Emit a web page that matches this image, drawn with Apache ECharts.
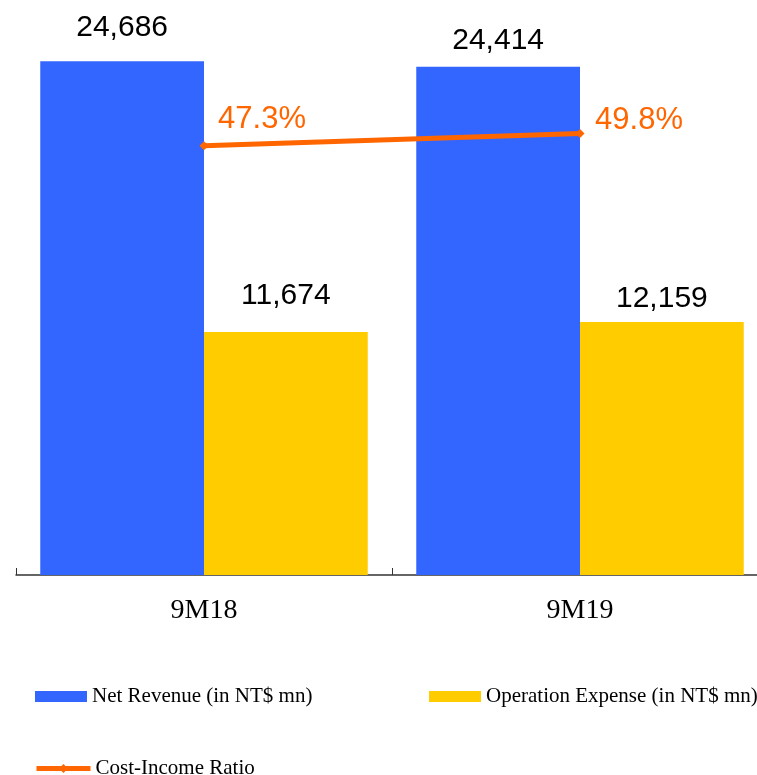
<!DOCTYPE html>
<html>
<head>
<meta charset="utf-8">
<script src="https://cdn.jsdelivr.net/npm/echarts@6/dist/echarts.min.js"></script>
<style>
  html, body { margin: 0; padding: 0; background: #fff; }
  #chart { width: 757px; height: 775px; }
</style>
</head>
<body>
<div id="chart"></div>
<script>
// chart data
const categories = ['9M18', '9M19'];
const netRevenue = [24686, 24414];
const operationExpense = [11674, 12159];
const costIncomeRatio = [47.3, 49.8];

// label placement (style only, the labels sit unevenly in the original)
const revLabelDist = [18, 11];
const expLabelDist = [21, 8];
const ratioLabelOffset = [[58, -26], [59, -13]];

const chart = echarts.init(document.getElementById('chart'));

const barLabel = {
  show: true,
  position: 'top',
  color: '#000',
  fontFamily: 'Liberation Sans',
  fontSize: 30,
  formatter: (p) => p.value.toLocaleString('en-US'),
};

const legendText = {
  fontFamily: 'Liberation Serif',
  fontSize: 21,
  color: '#000',
};

const option = {
  animation: false,
  grid: { left: 16, top: 13, right: -11, bottom: 200, outerBoundsMode: 'none' },
  legend: [
    {
      data: [{ name: 'Net Revenue (in NT$ mn)', icon: 'rect' }],
      left: 35, top: 686, padding: 0,
      itemWidth: 52, itemHeight: 11,
      textStyle: legendText,
    },
    {
      data: [{ name: 'Operation Expense (in NT$ mn)', icon: 'rect' }],
      left: 429, top: 686, padding: 0,
      itemWidth: 52, itemHeight: 11,
      textStyle: legendText,
    },
    {
      data: ['Cost-Income Ratio'],
      left: 34, top: 758, padding: 0,
      itemWidth: 54, itemHeight: 11,
      lineStyle: { width: 5 },
      textStyle: legendText,
    },
  ],
  xAxis: {
    type: 'category',
    data: categories,
    axisLine: { lineStyle: { color: '#333', width: 1.5 } },
    axisTick: { show: true, inside: true, length: 7, lineStyle: { color: '#333' } },
    axisLabel: {
      color: '#000',
      fontFamily: 'Liberation Serif',
      fontSize: 28,
      margin: 22,
    },
  },
  yAxis: [
    { type: 'value', min: 0, max: 27000, show: false, splitLine: { show: false } },
    { type: 'value', min: -40.7, max: 74.5, show: false, splitLine: { show: false } },
  ],
  series: [
    {
      name: 'Net Revenue (in NT$ mn)',
      type: 'bar',
      barGap: '0%',
      barCategoryGap: '12.9%',
      itemStyle: { color: '#3366FF' },
      label: barLabel,
      data: netRevenue.map((v, i) => ({ value: v, label: { distance: revLabelDist[i] } })),
    },
    {
      name: 'Operation Expense (in NT$ mn)',
      type: 'bar',
      barGap: '0%',
      barCategoryGap: '12.9%',
      itemStyle: { color: '#FFCC00' },
      label: barLabel,
      data: operationExpense.map((v, i) => ({ value: v, label: { distance: expLabelDist[i] } })),
    },
    {
      name: 'Cost-Income Ratio',
      type: 'line',
      yAxisIndex: 1,
      symbol: 'diamond',
      symbolSize: 9,
      lineStyle: { color: '#FF6600', width: 5 },
      itemStyle: { color: '#FF6600' },
      label: {
        show: true,
        position: 'inside',
        color: '#FF6600',
        fontFamily: 'Liberation Sans',
        fontSize: 31,
        formatter: (p) => p.value.toFixed(1) + '%',
      },
      data: costIncomeRatio.map((v, i) => ({ value: v, label: { offset: ratioLabelOffset[i] } })),
    },
  ],
};

chart.setOption(option);
</script>
</body>
</html>
